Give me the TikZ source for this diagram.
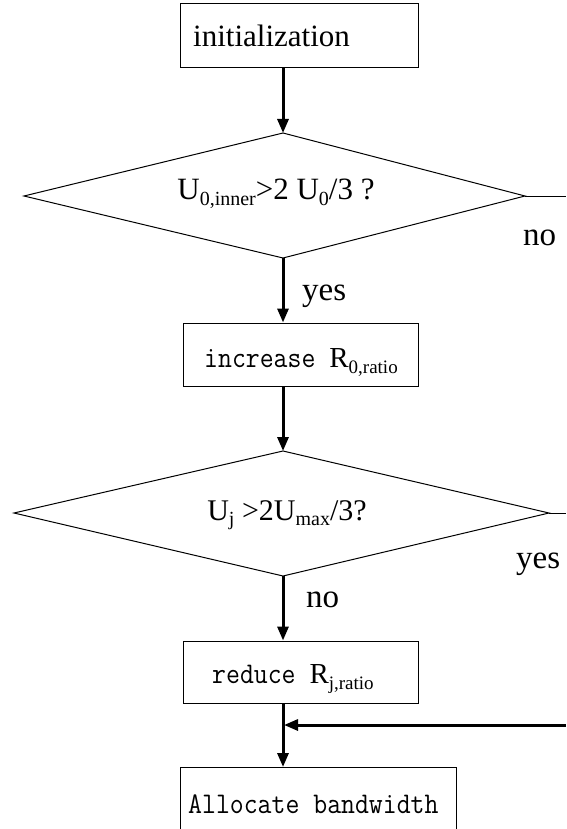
\documentclass[tikz,border=0pt]{standalone}
\usepackage{fontspec}
\setmainfont{Liberation Serif}
\usetikzlibrary{arrows.meta}
\tikzset{
  box/.style={draw, line width=1pt, inner sep=0pt},
  flow/.style={line width=3pt, -{Triangle[length=14pt,width=11pt]}},
  edge/.style={line width=1pt},
  lbl/.style={font=\fontsize{33}{36}\selectfont, inner sep=0pt, anchor=base west},
  dtxt/.style={font=\fontsize{31}{33}\selectfont, inner sep=0pt, anchor=base},
  mtxt/.style={inner sep=0pt, anchor=base west},
}
\newcommand{\sbA}[1]{\raisebox{-5.5pt}{\fontsize{20}{20}\selectfont #1}}
\newcommand{\sbB}[1]{\raisebox{-6pt}{\fontsize{19}{19}\selectfont #1}}
\newcommand{\monotxt}[1]{\scalebox{0.9}[1]{\ttfamily\fontsize{30}{32}\selectfont #1}}
\begin{document}
\begin{tikzpicture}[x=1pt,y=1pt]
\useasboundingbox (0,0) rectangle (566,-829);
\clip (0,0) rectangle (566,-829);
% boxes
\node[box, minimum width=238pt, minimum height=64pt] (init) at (299,-36) {};
\node[box, minimum width=235pt, minimum height=63pt] (inc) at (300.5,-354.5) {};
\node[box, minimum width=235pt, minimum height=62pt] (red) at (300.5,-672) {};
\node[box, minimum width=276pt, minimum height=100pt, anchor=north west] (alloc) at (180,-767) {};
% diamonds
\coordinate (d1t) at (283,-133);
\coordinate (d1r) at (525,-196);
\coordinate (d1b) at (283,-258);
\coordinate (d1l) at (24,-196);
\draw[edge] (d1t) -- (d1r) -- (d1b) -- (d1l) -- cycle;
\coordinate (d2t) at (283,-451);
\coordinate (d2r) at (549,-513);
\coordinate (d2b) at (283,-576);
\coordinate (d2l) at (14,-513);
\draw[edge] (d2t) -- (d2r) -- (d2b) -- (d2l) -- cycle;
% texts
\node[lbl, font=\fontsize{31}{34}\selectfont] (tinit) at (193,-47) {initialization};
\node[dtxt] (td1) at (276,-200) {U\sbA{0,inner}>2 U\sbA{0}/3 ?};
\node[mtxt] (tinc) at (204,-367) {\monotxt{increase }{\fontsize{29}{32}\selectfont R\sbB{0,ratio}}};
\node[dtxt, font=\fontsize{30}{32}\selectfont] (td2) at (287,-520) {U\sbA{j} >2U\sbA{max}/3?};
\node[mtxt] (tred) at (212,-683) {\monotxt{reduce }{\fontsize{29}{32}\selectfont R\sbB{j,ratio}}};
\node[mtxt] (talloc) at (188,-813) {\monotxt{Allocate bandwidth}};
\node[lbl] (no1) at (523,-245) {no};
\node[lbl] (yes1) at (302,-300) {yes};
\node[lbl] (yes2) at (516,-568) {yes};
\node[lbl] (no2) at (306,-607) {no};
% side lines
\coordinate (e1) at (566,-196);
\coordinate (e2) at (566,-513);
\coordinate (e3) at (566,-725);
\coordinate (j) at (284,-725);
\draw[edge] (d1r) -- (e1);
\draw[edge] (d2r) -- (e2);
% flow arrows
\draw[flow] (init.south -| d1t) -- (d1t);
\draw[flow] (d1b) -- (d1b |- inc.north);
\draw[flow] (inc.south -| d2t) -- (d2t);
\draw[flow] (d2b) -- (d2b |- red.north);
\draw[flow] (red.south -| d2t) -- (d2t |- alloc.north);
\draw[flow] (e3) -- (j);
\end{tikzpicture}
\end{document}
